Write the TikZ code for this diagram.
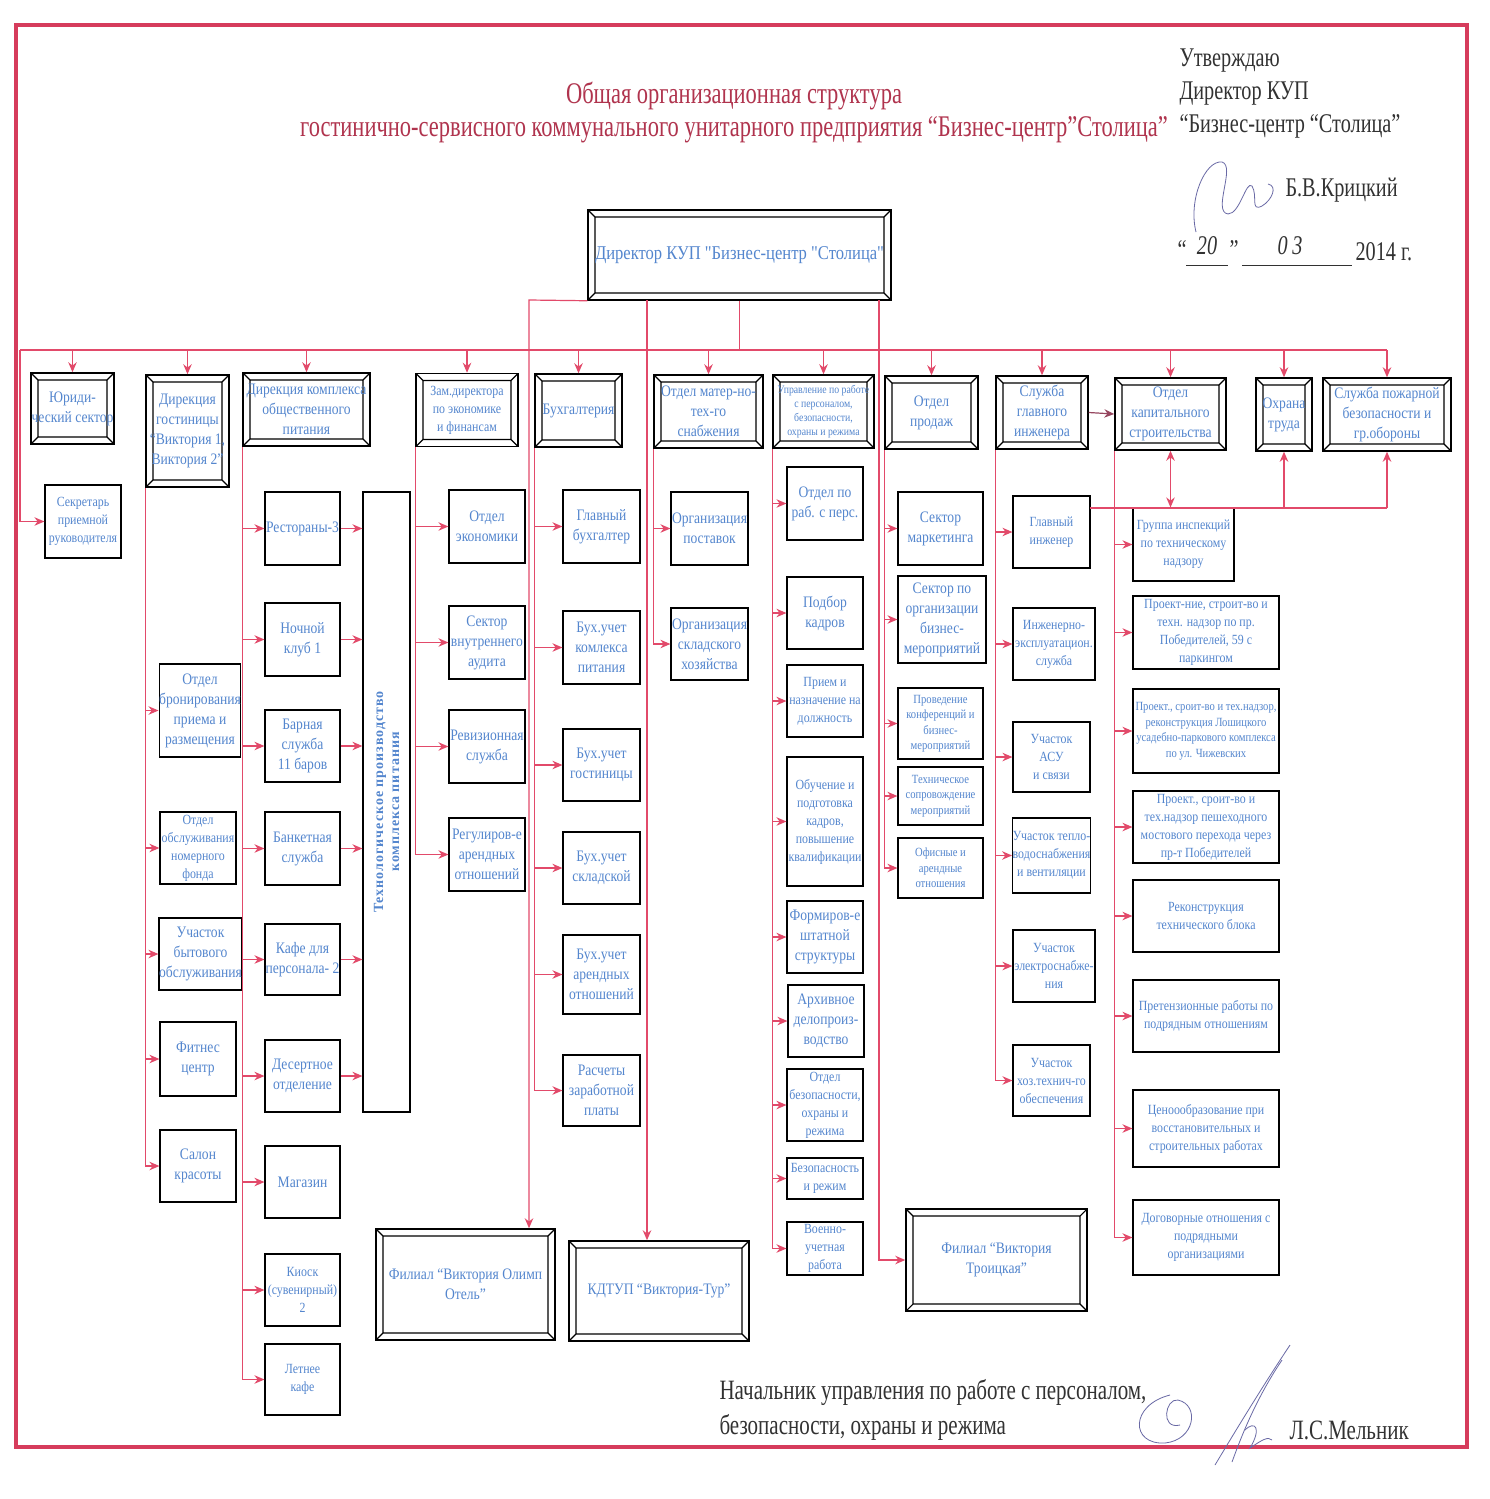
\documentclass[tikz,border=0pt]{standalone}
\usepackage{fontspec}
\setmainfont{Liberation Serif}
\newfontfamily\boxfont[FakeStretch=0.85]{Liberation Serif}
\newfontfamily\narrowfont[FakeStretch=0.75]{Liberation Serif}
\newfontfamily\spacedfont[LetterSpace=7]{Liberation Serif}
\usetikzlibrary{arrows.meta,calc}

\definecolor{linkred}{RGB}{226,74,106}
\definecolor{darklink}{RGB}{150,70,95}
\definecolor{unitblue}{RGB}{84,134,206}
\definecolor{titlered}{RGB}{176,52,78}
\definecolor{framered}{RGB}{214,60,92}
\definecolor{inkgray}{RGB}{50,50,50}
\definecolor{penblue}{RGB}{105,105,165}

\begin{document}
\begin{tikzpicture}[x=1pt, y=-1pt, >=Stealth,
    unit/.style={draw=black, line width=1.2pt, text=unitblue, align=center,
        inner sep=0pt, minimum height=73pt, font=\boxfont\fontsize{16}{20}\selectfont},
    bevel/.style={unit, line width=1.5pt, path picture={
        \draw[line width=1.1pt]
          ([shift={(7pt,-7pt)}]path picture bounding box.north west) rectangle
          ([shift={(-7pt,7pt)}]path picture bounding box.south east)
          (path picture bounding box.north west) -- ++(7pt,-7pt)
          (path picture bounding box.north east) -- ++(-7pt,-7pt)
          (path picture bounding box.south west) -- ++(7pt,7pt)
          (path picture bounding box.south east) -- ++(-7pt,7pt);}},
    small/.style={font=\boxfont\fontsize{14}{18}\selectfont},
    tiny/.style={font=\boxfont\fontsize{11.5}{14}\selectfont},
    minor/.style={font=\boxfont\fontsize{12.5}{15.5}\selectfont},
    trunk/.style={draw=linkred, line width=1.2pt},
    link/.style={trunk, -{Stealth[length=10pt,width=8.5pt]}},
    note/.style={font=\narrowfont\fontsize{27}{33}\selectfont, text=inkgray},
    pen/.style={draw=penblue, line width=0.8pt}]

    % --- фон и рамка ---
    \fill[white] (0,0) rectangle (1490,1499);
    \useasboundingbox (0,0) rectangle (1490,1499);
    \draw[framered, line width=3.5pt] (16,25) rectangle (1467,1447);

    % --- заголовок ---
    \node[font=\narrowfont\fontsize{30}{33}\selectfont, text=titlered, align=center] (title) at (734,112)
        {Общая организационная структура\\гостинично-сервисного коммунального унитарного предприятия “Бизнес-центр”Столица”};

    % --- гриф утверждения ---
    \node[note, anchor=north west, align=left] (appr) at (1176,45) {Утверждаю\\Директор КУП\\“Бизнес-центр “Столица”};
    \node[note, anchor=west] (krits) at (1282,190) {Б.В.Крицкий};
    \node[note, anchor=west] (qopen) at (1174,250) {“};
    \node[note, font=\narrowfont\itshape\fontsize{27}{33}\selectfont] (day) at (1207,246) {20};
    \node[note, anchor=west] (qclose) at (1226,250) {”};
    \node[note, font=\narrowfont\itshape\fontsize{27}{33}\selectfont] (month) at (1290,246) {0\,3};
    \node[note, anchor=west] (year) at (1352,252) {2014 г.};
    \draw[inkgray, line width=1pt] (1186,265) -- (1228,265) (1242,265) -- (1352,265);
    \draw[pen] (1196,232) .. controls (1188,200) and (1205,160) .. (1222,162)
        .. controls (1236,166) and (1212,212) .. (1228,214)
        .. controls (1240,214) and (1246,180) .. (1252,186)
        .. controls (1258,196) and (1250,212) .. (1262,206)
        .. controls (1272,200) and (1278,186) .. (1268,184);

    % --- директор ---
    \node[bevel, minimum width=303pt, minimum height=90pt, font=\boxfont\fontsize{19.5}{23}\selectfont] (dir) at (739.5,255)
        {Директор КУП "Бизнес-центр "Столица"};

    % --- первый уровень ---
    \node[bevel, minimum width=83pt, minimum height=71pt] (jur) at (72.5,408.5) {Юриди-\\ческий сектор};
    \node[bevel, minimum width=83pt, minimum height=112pt] (hot) at (187.5,431) {Дирекция\\гостиницы\\“Виктория 1,\\Виктория 2”};
    \node[bevel, minimum width=127pt] (food) at (306.5,409.5) {Дирекция комплекса\\общественного\\питания};
    \node[bevel, small, minimum width=102pt] (zam) at (467,410) {Зам.директора\\по экономике\\и финансам};
    \node[bevel, minimum width=87pt] (buh) at (578.5,410.5) {Бухгалтерия};
    \node[bevel, minimum width=109pt] (snab) at (708.5,411.5) {Отдел матер-но-\\тех-го\\снабжения};
    \node[bevel, tiny, minimum width=101pt] (pers) at (823.5,411.5) {Управление по работе\\с персоналом,\\безопасности,\\охраны и режима};
    \node[bevel, minimum width=93pt] (sale) at (931.5,412.5) {Отдел\\продаж};
    \node[bevel, minimum width=92pt] (eng) at (1042,412.5) {Служба\\главного\\инженера};
    \node[bevel, minimum width=111pt, minimum height=72pt] (kap) at (1170.5,414) {Отдел\\капитального\\строительства};
    \node[bevel, minimum width=56pt] (ohr) at (1284,414.5) {Охрана\\труда};
    \node[bevel, minimum width=128pt] (fire) at (1387,414.5) {Служба пожарной\\безопасности и\\гр.обороны};

    \node[unit, small, minimum width=76pt] (sec) at (83,521.5) {Секретарь\\приемной\\руководителя};

    % --- гостиница ---
    \node[unit, minimum width=80pt, minimum height=93pt] (bron) at (200,710.5) {Отдел\\бронирования\\приема и\\размещения};
    \node[unit, small, minimum width=76pt, minimum height=72pt] (nom) at (198,848) {Отдел\\обслуживания\\номерного\\фонда};
    \node[unit, minimum width=81pt, minimum height=72pt] (byt) at (200.5,954) {Участок\\бытового\\обслуживания};
    \node[unit, minimum width=76pt, minimum height=74pt] (fit) at (198,1059) {Фитнес\\центр};
    \node[unit, minimum width=76pt, minimum height=72pt] (salon) at (198,1166) {Салон\\красоты};

    % --- комплекс питания ---
    \node[unit, minimum width=75pt] (rest) at (302.5,528.5) {Рестораны-3};
    \node[unit, minimum width=75pt] (club) at (302.5,639.5) {Ночной\\клуб 1};
    \node[unit, minimum width=75pt, minimum height=72pt] (bar) at (302.5,746) {Барная\\служба\\11 баров};
    \node[unit, minimum width=75pt] (banq) at (302.5,848.5) {Банкетная\\служба};
    \node[unit, minimum width=75pt, minimum height=71pt] (cafe) at (302.5,959.5) {Кафе для\\персонала- 2};
    \node[unit, minimum width=75pt, minimum height=72pt] (des) at (302.5,1076) {Десертное\\отделение};
    \node[unit, minimum width=75pt, minimum height=72pt] (shop) at (302.5,1182) {Магазин};
    \node[unit, small, minimum width=75pt, minimum height=72pt] (kiosk) at (302.5,1290) {Киоск\\(сувенирный)\\2};
    \node[unit, small, minimum width=75pt, minimum height=71pt] (summer) at (302.5,1379.5) {Летнее\\кафе};
    \node[unit, minimum width=47pt, minimum height=620pt] (tech) at (386.5,802) {};
    \node[rotate=90, text=unitblue, align=center, font=\spacedfont\bfseries\fontsize{14}{16}\selectfont] (techtxt) at (tech.center)
        {Технологическое производство\\комплекса питания};

    % --- экономика ---
    \node[unit, minimum width=76pt] (econ) at (487,526.5) {Отдел\\экономики};
    \node[unit, minimum width=76pt] (audit) at (487,642.5) {Сектор\\внутреннего\\аудита};
    \node[unit, minimum width=76pt] (rev) at (487,746.5) {Ревизионная\\служба};
    \node[unit, minimum width=76pt] (rent) at (487,854.5) {Регулиров-е\\арендных\\отношений};

    % --- бухгалтерия ---
    \node[unit, minimum width=77pt] (chbuh) at (601.5,526.5) {Главный\\бухгалтер};
    \node[unit, minimum width=77pt] (bfood) at (601.5,647.5) {Бух.учет\\комлекса\\питания};
    \node[unit, minimum width=77pt, minimum height=72pt] (bhot) at (601.5,765) {Бух.учет\\гостиницы};
    \node[unit, minimum width=77pt, minimum height=72pt] (bstore) at (601.5,868) {Бух.учет\\складской};
    \node[unit, minimum width=77pt, minimum height=79pt] (brent) at (601.5,974.5) {Бух.учет\\арендных\\отношений};
    \node[unit, minimum width=77pt, minimum height=71pt] (salary) at (601.5,1090.5) {Расчеты\\заработной\\платы};

    % --- снабжение ---
    \node[unit, minimum width=77pt] (supply) at (709.5,528.5) {Организация\\поставок};
    \node[unit, minimum width=77pt, minimum height=72pt] (store) at (709.5,644) {Организация\\складского\\хозяйства};

    % --- персонал и режим ---
    \node[unit, minimum width=76pt] (hr) at (825,503.5) {Отдел по\\раб. с перс.};
    \node[unit, minimum width=76pt, minimum height=72pt] (recruit) at (825,613) {Подбор\\кадров};
    \node[unit, small, minimum width=76pt, minimum height=72pt] (hire) at (825,701) {Прием и\\назначение на\\должность};
    \node[unit, small, minimum width=76pt, minimum height=129pt] (train) at (825,821.5) {Обучение и\\подготовка\\кадров,\\повышение\\квалификации};
    \node[unit, minimum width=76pt, minimum height=72pt] (staff) at (825,937) {Формиров-е\\штатной\\структуры};
    \node[unit, minimum width=76pt, minimum height=72pt] (arch) at (826,1021) {Архивное\\делопроиз-\\водство};
    \node[unit, small, minimum width=76pt, minimum height=72pt] (guard) at (825,1105) {Отдел\\безопасности,\\охраны и\\режима};
    \node[unit, small, minimum width=76pt, minimum height=41pt] (safe) at (825,1178.5) {Безопасность\\и режим};
    \node[unit, small, minimum width=76pt, minimum height=53pt] (mil) at (825,1248.5) {Военно-\\учетная\\работа};

    % --- продажи ---
    \node[unit, minimum width=85pt] (mark) at (940.5,528.5) {Сектор\\маркетинга};
    \node[unit, minimum width=88pt, minimum height=87pt] (biz) at (942,619.5) {Сектор по\\организации\\бизнес-\\мероприятий};
    \node[unit, minor, minimum width=85pt, minimum height=71pt] (conf) at (940.5,723.5) {Проведение\\конференций и\\бизнес-\\мероприятий};
    \node[unit, minor, minimum width=85pt, minimum height=58pt] (techs) at (940.5,796) {Техническое\\сопровождение\\мероприятий};
    \node[unit, minor, minimum width=85pt, minimum height=60pt] (office) at (940.5,868) {Офисные и\\арендные\\отношения};

    % --- главный инженер ---
    \node[unit, small, minimum width=77pt, minimum height=72pt] (chief) at (1051.5,532) {Главный\\инженер};
    \node[unit, small, minimum width=82pt, minimum height=72pt] (expl) at (1054,644) {Инженерно-\\эксплуатацион.\\служба};
    \node[unit, small, minimum width=77pt, minimum height=70pt] (asu) at (1051.5,757) {Участок\\АСУ\\и связи};
    \node[unit, small, minimum width=77pt, minimum height=75pt] (heat) at (1051.5,855.5) {Участок тепло-\\водоснабжения\\и вентиляции};
    \node[unit, small, minimum width=82pt, minimum height=72pt] (elec) at (1054,966) {Участок\\электроснабже-\\ния};
    \node[unit, small, minimum width=77pt, minimum height=71pt] (hoz) at (1051.5,1080.5) {Участок\\хоз.технич-го\\обеспечения};

    % --- капитальное строительство ---
    \node[unit, small, minimum width=101pt] (grp) at (1183.5,544.5) {Группа инспекций\\по техническому\\надзору};
    \node[unit, small, minimum width=146pt] (pob) at (1206,632.5) {Проект-ние, строит-во и\\техн. надзор по пр.\\Победителей, 59 с\\паркингом};
    \node[unit, minor, minimum width=146pt, minimum height=84pt] (losh) at (1206,731) {Проект., сроит-во и тех.надзор,\\реконструкция Лошицкого\\усадебно-паркового комплекса\\по ул. Чижевских};
    \node[unit, small, minimum width=146pt, minimum height=72pt] (bridge) at (1206,827) {Проект., сроит-во и\\тех.надзор пешеходного\\мостового перехода через\\пр-т Победителей};
    \node[unit, small, minimum width=146pt, minimum height=72pt] (block) at (1206,916) {Реконструкция\\технического блока};
    \node[unit, small, minimum width=146pt, minimum height=72pt] (claim) at (1206,1016) {Претензионные работы по\\подрядным отношениям};
    \node[unit, small, minimum width=146pt, minimum height=77pt] (price) at (1206,1128.5) {Ценоообразование при\\восстановительных и\\строительных работах};
    \node[unit, small, minimum width=146pt, minimum height=75pt] (contr) at (1206,1237.5) {Договорные отношения с\\подрядными\\организациями};

    % --- филиалы ---
    \node[bevel, minimum width=179pt, minimum height=111pt] (olimp) at (465.5,1284.5) {Филиал “Виктория Олимп\\Отель”};
    \node[bevel, minimum width=180pt, minimum height=100pt] (tour) at (659,1291) {КДТУП “Виктория-Тур”};
    \node[bevel, minimum width=181pt, minimum height=102pt] (troy) at (996.5,1260) {Филиал “Виктория\\Троицкая”};

    % --- шина от директора ---
    \coordinate (busL) at (20,350);
    \draw[trunk] (dir.south) -- (dir.south |- busL);
    \draw[trunk] (busL) -- (busL -| fire.north);
    \draw[link] (jur.north |- busL) -- (jur.north);
    \draw[link] (hot.north |- busL) -- (hot.north);
    \draw[link] (food.north |- busL) -- (food.north);
    \draw[link] (zam.north |- busL) -- (zam.north);
    \draw[link] (buh.north |- busL) -- (buh.north);
    \draw[link] (snab.north |- busL) -- (snab.north);
    \draw[link] (pers.north |- busL) -- (pers.north);
    \draw[link] (sale.north |- busL) -- (sale.north);
    \draw[link] (eng.north |- busL) -- (eng.north);
    \draw[link] (kap.north |- busL) -- (kap.north);
    \draw[link] (ohr.north |- busL) -- (ohr.north);
    \draw[link] (fire.north |- busL) -- (fire.north);
    \draw[link] (busL) -- (sec.west -| busL) -- (sec.west);

    % --- прямые линии к филиалам ---
    \coordinate (olimpTop) at (529,300);
    \coordinate (tourTop) at (647,300);
    \coordinate (troyTop) at (879,300);
    \draw[link] (dir.south west) -- (olimpTop) -- (olimpTop |- olimp.north);
    \draw[link] (tourTop) -- (tourTop |- tour.north);
    \draw[link] (troyTop) -- (troyTop |- troy.west) -- (troy.west);

    % --- гостиница ---
    \draw[trunk] (hot.south west) -- (salon.west -| hot.south west);
    \draw[link] (bron.west -| hot.south west) -- (bron.west);
    \draw[link] (nom.west -| hot.south west) -- (nom.west);
    \draw[link] (byt.west -| hot.south west) -- (byt.west);
    \draw[link] (fit.west -| hot.south west) -- (fit.west);
    \draw[link] (salon.west -| hot.south west) -- (salon.west);

    % --- комплекс питания ---
    \draw[trunk] (food.south west) -- (summer.west -| food.south west);
    \draw[link] (rest.west -| food.south west) -- (rest.west);
    \draw[link] (club.west -| food.south west) -- (club.west);
    \draw[link] (bar.west -| food.south west) -- (bar.west);
    \draw[link] (banq.west -| food.south west) -- (banq.west);
    \draw[link] (cafe.west -| food.south west) -- (cafe.west);
    \draw[link] (des.west -| food.south west) -- (des.west);
    \draw[link] (shop.west -| food.south west) -- (shop.west);
    \draw[link] (kiosk.west -| food.south west) -- (kiosk.west);
    \draw[link] (summer.west -| food.south west) -- (summer.west);
    \draw[link] (rest.east) -- (rest.east -| tech.west);
    \draw[link] (club.east) -- (club.east -| tech.west);
    \draw[link] (bar.east) -- (bar.east -| tech.west);
    \draw[link] (banq.east) -- (banq.east -| tech.west);
    \draw[link] (cafe.east) -- (cafe.east -| tech.west);
    \draw[link] (des.east) -- (des.east -| tech.west);

    % --- экономика ---
    \draw[trunk] (zam.south west) -- (rent.west -| zam.south west);
    \draw[link] (econ.west -| zam.south west) -- (econ.west);
    \draw[link] (audit.west -| zam.south west) -- (audit.west);
    \draw[link] (rev.west -| zam.south west) -- (rev.west);
    \draw[link] (rent.west -| zam.south west) -- (rent.west);

    % --- бухгалтерия ---
    \draw[trunk] (buh.south west) -- (salary.west -| buh.south west);
    \draw[link] (chbuh.west -| buh.south west) -- (chbuh.west);
    \draw[link] (bfood.west -| buh.south west) -- (bfood.west);
    \draw[link] (bhot.west -| buh.south west) -- (bhot.west);
    \draw[link] (bstore.west -| buh.south west) -- (bstore.west);
    \draw[link] (brent.west -| buh.south west) -- (brent.west);
    \draw[link] (salary.west -| buh.south west) -- (salary.west);

    % --- снабжение ---
    \draw[trunk] (snab.south west) -- (store.west -| snab.south west);
    \draw[link] (supply.west -| snab.south west) -- (supply.west);
    \draw[link] (store.west -| snab.south west) -- (store.west);

    % --- персонал и режим ---
    \draw[trunk] (pers.south west) -- (mil.west -| pers.south west);
    \draw[link] (hr.west -| pers.south west) -- (hr.west);
    \draw[link] (recruit.west -| pers.south west) -- (recruit.west);
    \draw[link] (hire.west -| pers.south west) -- (hire.west);
    \draw[link] (train.west -| pers.south west) -- (train.west);
    \draw[link] (staff.west -| pers.south west) -- (staff.west);
    \draw[link] (arch.west -| pers.south west) -- (arch.west);
    \draw[link] (guard.west -| pers.south west) -- (guard.west);
    \draw[link] (safe.west -| pers.south west) -- (safe.west);
    \draw[link] (mil.west -| pers.south west) -- (mil.west);

    % --- продажи ---
    \draw[trunk] (sale.south west) -- (office.west -| sale.south west);
    \draw[link] (mark.west -| sale.south west) -- (mark.west);
    \draw[link] (biz.west -| sale.south west) -- (biz.west);
    \draw[link] (conf.west -| sale.south west) -- (conf.west);
    \draw[link] (techs.west -| sale.south west) -- (techs.west);
    \draw[link] (office.west -| sale.south west) -- (office.west);

    % --- главный инженер ---
    \draw[trunk] (eng.south west) -- (hoz.west -| eng.south west);
    \draw[link] (chief.west -| eng.south west) -- (chief.west);
    \draw[link] (expl.west -| eng.south west) -- (expl.west);
    \draw[link] (asu.west -| eng.south west) -- (asu.west);
    \draw[link] (heat.west -| eng.south west) -- (heat.west);
    \draw[link] (elec.west -| eng.south west) -- (elec.west);
    \draw[link] (hoz.west -| eng.south west) -- (hoz.west);
    \draw[link, draw=darklink] (eng.east) -- (kap.west);

    % --- связи главного инженера с надзором ---
    \coordinate (engBus) at (1090,508);
    \draw[trunk] (engBus) -- (engBus -| fire.south);
    \draw[link] (fire.south |- engBus) -- (fire.south);
    \draw[link] (ohr.south |- engBus) -- (ohr.south);
    \draw[trunk, {Stealth[length=10pt,width=8.5pt]}-{Stealth[length=10pt,width=8.5pt]}] (kap.south) -- (kap.south |- grp.north);

    % --- капитальное строительство ---
    \draw[trunk] (kap.south west) -- (contr.west -| kap.south west);
    \draw[link] (grp.west -| kap.south west) -- (grp.west);
    \draw[link] (pob.west -| kap.south west) -- (pob.west);
    \draw[link] (losh.west -| kap.south west) -- (losh.west);
    \draw[link] (bridge.west -| kap.south west) -- (bridge.west);
    \draw[link] (block.west -| kap.south west) -- (block.west);
    \draw[link] (claim.west -| kap.south west) -- (claim.west);
    \draw[link] (price.west -| kap.south west) -- (price.west);
    \draw[link] (contr.west -| kap.south west) -- (contr.west);

    % --- подпись внизу ---
    \node[note, font=\narrowfont\fontsize{28}{35}\selectfont, anchor=north west, align=left] (chiefsign) at (716,1376)
        {Начальник управления по работе с персоналом,\\безопасности, охраны и режима};
    \node[note, font=\narrowfont\fontsize{28}{35}\selectfont, anchor=west] (meln) at (1286,1430) {Л.С.Мельник};
    \draw[pen] (1170,1395) .. controls (1130,1405) and (1130,1445) .. (1165,1443)
        .. controls (1195,1440) and (1200,1405) .. (1178,1400)
        .. controls (1165,1398) and (1160,1430) .. (1180,1425);
    \draw[pen] (1290,1345) .. controls (1260,1390) and (1230,1440) .. (1215,1465);
    \draw[pen] (1282,1360) .. controls (1255,1400) and (1240,1440) .. (1232,1462);
    \draw[pen] (1245,1430) .. controls (1255,1420) and (1262,1428) .. (1250,1448)
        .. controls (1262,1440) and (1268,1436) .. (1272,1440);

\end{tikzpicture}
\end{document}
